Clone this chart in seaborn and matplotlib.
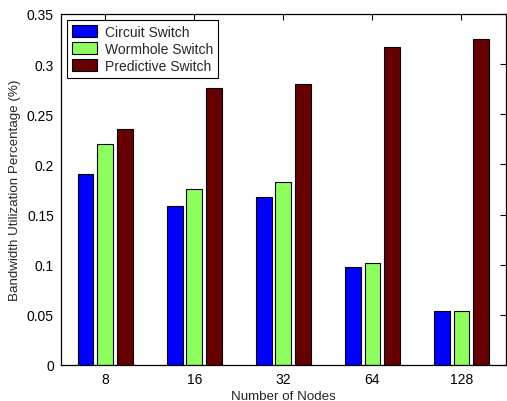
import matplotlib
matplotlib.use("Agg")
import matplotlib.pyplot as plt
from matplotlib.ticker import FuncFormatter, FixedLocator
import seaborn as sns
import pandas as pd

# Data
nodes = ["8", "16", "32", "64", "128"]
switches = ["Circuit Switch", "Wormhole Switch", "Predictive Switch"]
circuit = [0.190, 0.159, 0.168, 0.098, 0.054]
wormhole = [0.220, 0.175, 0.182, 0.102, 0.054]
predictive = [0.235, 0.276, 0.280, 0.317, 0.325]
yticks = [0, 0.05, 0.1, 0.15, 0.2, 0.25, 0.3, 0.35]

colors = ["#0000FF", "#8FFF5F", "#660000"]

rows = []
for name, vals in zip(switches, [circuit, wormhole, predictive]):
    for n, v in zip(nodes, vals):
        rows.append({"nodes": n, "value": v, "switch": name})
df = pd.DataFrame(rows)

sns.set_style("white")
plt.rcParams["font.family"] = ["Liberation Sans", "DejaVu Sans"]

fs = 10
fig = plt.figure(figsize=(5.07, 4.02), dpi=100)
ax = fig.add_axes([0.120, 0.0896, 0.878, 0.8731])

sns.barplot(data=df, x="nodes", y="value", hue="switch", order=nodes,
            hue_order=switches, palette=colors, saturation=1,
            width=0.667, gap=0.2, edgecolor="black", linewidth=0.8,
            errorbar=None, ax=ax)

ax.set_xlim(-0.5, len(nodes) - 0.5)
ax.set_ylim(0, 0.35)
ax.yaxis.set_major_locator(FixedLocator(yticks))
ax.yaxis.set_major_formatter(FuncFormatter(lambda v, p: "%g" % round(v, 3)))

ax.set_xlabel("Number of Nodes", fontsize=9.6, labelpad=3)
ax.set_ylabel("Bandwidth Utilization Percentage (%)", fontsize=9.6, labelpad=4)

for s in ax.spines.values():
    s.set_visible(True)
    s.set_color("black")
    s.set_linewidth(0.9)

ax.tick_params(axis="both", which="both", direction="in", top=True, right=True,
               length=4, width=0.8, labelsize=fs, colors="black", pad=5)

handles, labels = ax.get_legend_handles_labels()
leg = ax.legend(handles, labels, loc="upper left", fontsize=fs,
                frameon=True, fancybox=False, edgecolor="black",
                framealpha=1, borderaxespad=0.45, handlelength=1.8,
                handleheight=0.95, handletextpad=0.6, labelspacing=0.2,
                borderpad=0.35)
leg.get_frame().set_linewidth(0.8)

fig.savefig("out.png", dpi=100)
